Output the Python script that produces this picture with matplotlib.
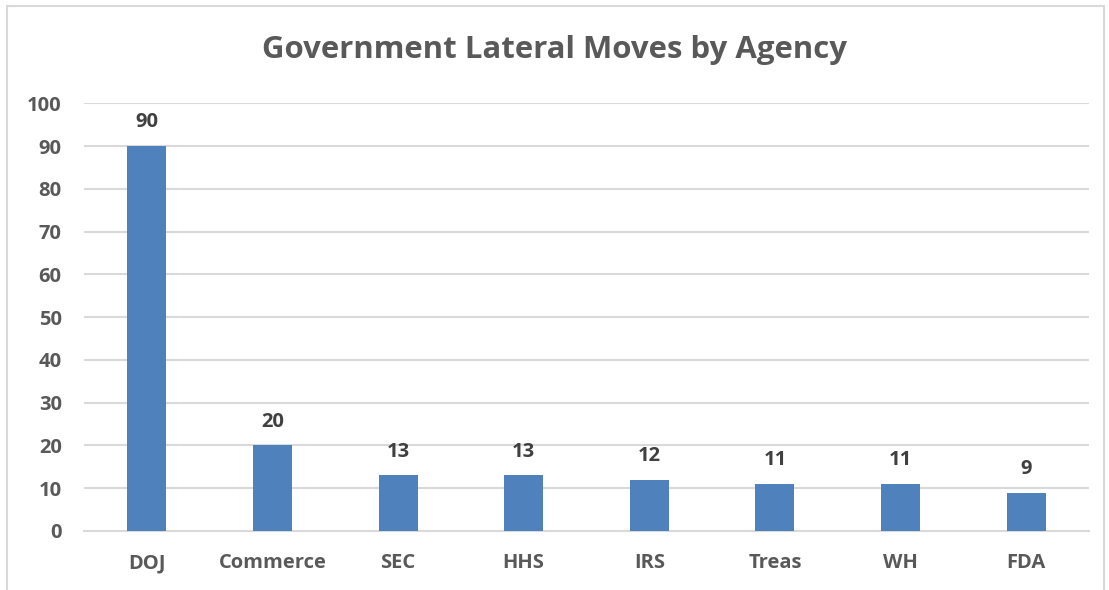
import matplotlib.pyplot as plt
from matplotlib.patches import Rectangle

agencies = ["DOJ", "Commerce", "SEC", "HHS", "IRS", "Treas", "WH", "FDA"]
moves = [90, 20, 13, 13, 12, 11, 11, 9]
yticks = [0, 10, 20, 30, 40, 50, 60, 70, 80, 90, 100]

plt.rcParams['font.family'] = ['Open Sans', 'DejaVu Sans']

fig = plt.figure(figsize=(11.09, 5.90), dpi=100)
ax = fig.add_axes([0.0757, 0.1, 0.9063, 0.725])

x = range(len(agencies))
bars = ax.bar(x, moves, width=0.31, color="#4f81bd", zorder=3)
for xi, v in zip(x, moves):
    ax.text(xi, v + 3.2, str(v), ha="center", va="bottom", fontsize=14.5,
            fontweight="bold", color="#404040")

ax.set_xlim(-0.5, len(agencies) - 0.5)
ax.set_ylim(0, 100)
ax.set_yticks(yticks)
ax.set_xticks(list(x))
ax.set_xticklabels(agencies)
ax.yaxis.grid(True, color="#d9d9d9", linewidth=1.5, zorder=0)
ax.tick_params(length=0, labelsize=14.5, labelcolor="#595959")
ax.tick_params(axis="y", pad=16)
ax.tick_params(axis="x", pad=16)
for lbl in ax.get_xticklabels() + ax.get_yticklabels():
    lbl.set_fontweight("bold")
for s in ["top", "right", "left"]:
    ax.spines[s].set_visible(False)
ax.spines["bottom"].set_color("#d9d9d9")
ax.spines["bottom"].set_linewidth(1.5)

fig.text(0.5, 0.915, "Government Lateral Moves by Agency", ha="center", va="center",
         fontsize=22.4, fontweight="bold", color="#595959")

fig.patches.append(Rectangle((7 / 1109, -0.05), 1097 / 1109, 1.04, transform=fig.transFigure,
                             fill=False, edgecolor="#d9d9d9", linewidth=1.5))

fig.savefig("out.png", dpi=100)
